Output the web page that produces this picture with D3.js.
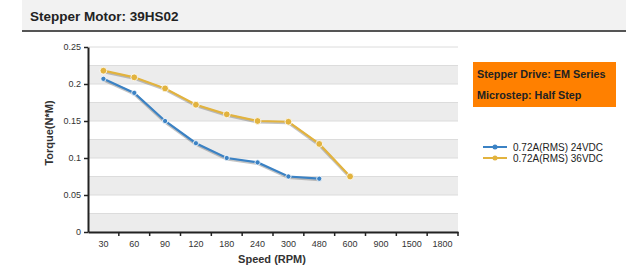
<!DOCTYPE html>
<html>
<head>
<meta charset="utf-8">
<script src="https://cdn.jsdelivr.net/npm/d3@7"></script>
<style>
  body { margin: 0; background: #fff; font-family: "Liberation Sans", Arial, sans-serif; }
</style>
</head>
<body>
<div id="chart"></div>
<script>
const speeds = ['30', '60', '90', '120', '180', '240', '300', '480', '600', '900', '1500', '1800'];
const torque24 = [0.207, 0.188, 0.150, 0.120, 0.100, 0.094, 0.075, 0.072];
const torque36 = [0.218, 0.209, 0.194, 0.172, 0.159, 0.150, 0.149, 0.119, 0.075];
const seriesNames = ['0.72A(RMS) 24VDC', '0.72A(RMS) 36VDC'];
const yTicks = [0, 0.05, 0.1, 0.15, 0.2, 0.25];

const W = 626, H = 268;
const colors = ['#3b82c4', '#e2b33e'];

const svg = d3.select('#chart').append('svg')
    .attr('width', W).attr('height', H);

// header band
svg.append('rect').attr('x', 22).attr('y', 0).attr('width', W - 22).attr('height', 30).attr('fill', '#f2f2f2');
svg.append('rect').attr('x', 22).attr('y', 30).attr('width', W - 22).attr('height', 2).attr('fill', '#555');
svg.append('text').attr('x', 30).attr('y', 21)
    .attr('font-size', 13.5).attr('font-weight', 'bold').attr('fill', '#222')
    .text('Stepper Motor: 39HS02');

const x = d3.scaleBand().domain(speeds).range([88, 458]);
const y = d3.scaleLinear().domain([0, 0.25]).range([232, 47]);

// alternating bands
const bands = d3.range(0, 0.25, 0.025);
svg.append('g').selectAll('rect').data(bands).enter().append('rect')
    .attr('x', 88).attr('width', 370)
    .attr('y', d => y(d + 0.025)).attr('height', d => y(d) - y(d + 0.025))
    .attr('fill', (d, i) => i % 2 === 0 ? '#ececec' : '#fff');
svg.append('g').selectAll('line').data(d3.range(0, 0.2501, 0.025)).enter().append('line')
    .attr('x1', 88).attr('x2', 458)
    .attr('y1', d => y(d)).attr('y2', d => y(d))
    .attr('stroke', '#dcdcdc').attr('stroke-width', 1);

// axes
const yAxis = svg.append('g').attr('transform', 'translate(88,0)')
    .call(d3.axisLeft(y).tickValues(yTicks).tickFormat(d3.format('~g')).tickSize(4).tickSizeOuter(0));
const xAxis = svg.append('g').attr('transform', 'translate(0,232)')
    .call(d3.axisBottom(x).tickSize(0).tickSizeOuter(0));
[yAxis, xAxis].forEach(g => {
    g.select('.domain').attr('stroke', '#222').attr('stroke-width', 2);
    g.selectAll('text').attr('font-size', 9).attr('fill', '#333').attr('font-family', '"Liberation Sans", Arial, sans-serif');
    g.selectAll('line').attr('stroke', '#222').attr('stroke-width', 1.5);
});
xAxis.selectAll('text').attr('dy', '1.3em');
// boundary ticks on x axis
xAxis.append('g').selectAll('line').data(speeds).enter().append('line')
    .attr('x1', (d, i) => 88 + x.step() * (i + 1)).attr('x2', (d, i) => 88 + x.step() * (i + 1))
    .attr('y1', 0).attr('y2', 4).attr('stroke', '#222').attr('stroke-width', 1.5);

svg.append('text').attr('transform', 'translate(53,133) rotate(-90)')
    .attr('text-anchor', 'middle').attr('font-size', 11).attr('font-weight', 'bold').attr('fill', '#333')
    .text('Torque(N*M)');
svg.append('text').attr('x', 272).attr('y', 263)
    .attr('text-anchor', 'middle').attr('font-size', 11).attr('font-weight', 'bold').attr('fill', '#333')
    .text('Speed (RPM)');

// series
const line = d3.line().x(d => x(d.s) + x.bandwidth() / 2).y(d => y(d.v));
[torque24, torque36].forEach((vals, k) => {
    const pts = vals.map((v, i) => ({ s: speeds[i], v: v }));
    const g = svg.append('g');
    g.append('path').datum(pts).attr('d', line)
        .attr('fill', 'none').attr('stroke', '#555').attr('stroke-opacity', 0.35)
        .attr('stroke-width', 3).attr('transform', 'translate(0,1)');
    g.append('path').datum(pts).attr('d', line)
        .attr('fill', 'none').attr('stroke', colors[k]).attr('stroke-width', 2.2);
    g.selectAll('circle').data(pts).enter().append('circle')
        .attr('cx', d => x(d.s) + x.bandwidth() / 2).attr('cy', d => y(d.v))
        .attr('r', k === 0 ? 2.6 : 3.4).attr('fill', colors[k])
        .attr('stroke', '#fff').attr('stroke-width', 0.8);
});

// info box
svg.append('rect').attr('x', 473).attr('y', 62).attr('width', 143).attr('height', 45).attr('fill', '#ff8000');
svg.append('text').attr('x', 477).attr('y', 78).attr('font-size', 10.8).attr('font-weight', 'bold').attr('fill', '#222')
    .text('Stepper Drive: EM Series');
svg.append('text').attr('x', 477).attr('y', 99).attr('font-size', 10.8).attr('font-weight', 'bold').attr('fill', '#222')
    .text('Microstep: Half Step');

// legend
const leg = svg.append('g').selectAll('g').data(seriesNames).enter().append('g')
    .attr('transform', (d, i) => 'translate(483,' + (147 + i * 11) + ')');
leg.append('line').attr('x1', 0).attr('x2', 24).attr('y1', 0).attr('y2', 0)
    .attr('stroke', (d, i) => colors[i]).attr('stroke-width', 2);
leg.append('circle').attr('cx', 12).attr('cy', 0).attr('r', 2.5).attr('fill', (d, i) => colors[i]);
leg.append('text').attr('x', 30).attr('y', 3.5).attr('font-size', 10).attr('fill', '#222').text(d => d);
</script>
</body>
</html>
